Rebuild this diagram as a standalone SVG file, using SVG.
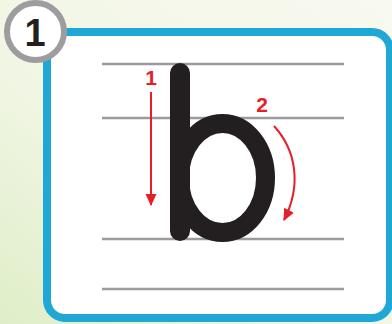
<svg xmlns="http://www.w3.org/2000/svg" width="392" height="324" viewBox="0 0 392 324">
<defs>
<linearGradient id="bg" x1="1" y1="0" x2="0" y2="1">
<stop offset="0" stop-color="#f8f9f0"/>
<stop offset="0.6" stop-color="#f1f6e4"/>
<stop offset="1" stop-color="#dfeec8"/>
</linearGradient>
<marker id="ah" viewBox="0 0 12 12" refX="11" refY="6" markerWidth="12" markerHeight="12" markerUnits="userSpaceOnUse" orient="auto">
<path d="M0,0.5 L12,6 L0,11.5 Z" fill="#e61e2a"/>
</marker>
<style>
.guide{stroke:#9b9a9f;stroke-width:2.5;fill:none}
.ink{stroke:#231f20;fill:none}
.red{stroke:#e61e2a;stroke-width:2;fill:none}
.rt{font-family:"Liberation Sans",Arial,sans-serif;font-weight:bold;font-size:21px;fill:#e61e2a;text-anchor:middle}
</style>
</defs>
<rect x="0" y="0" width="392" height="324" fill="url(#bg)"/>
<g id="frame">
<rect x="47" y="32" width="343" height="286" rx="18" ry="18" fill="#ffffff" stroke="#1fa8d5" stroke-width="8"/>
</g>
<g id="badge">
<circle cx="35.5" cy="31.5" r="28.5" fill="#ffffff" stroke="#9d9d9f" stroke-width="6"/>
<text x="35" y="46" font-family="Liberation Sans,Arial,sans-serif" font-weight="bold" font-size="38" fill="#231f20" text-anchor="middle">1</text>
</g>
<g id="guides">
<line class="guide" x1="102" y1="64" x2="344" y2="64"/>
<line class="guide" x1="102" y1="118" x2="344" y2="118"/>
<line class="guide" x1="102" y1="239" x2="344" y2="239"/>
<line class="guide" x1="102" y1="289" x2="344" y2="289"/>
</g>
<g id="letter-b">
<ellipse class="ink" cx="222.5" cy="178" rx="43" ry="54.5" stroke-width="19"/>
<line class="ink" x1="180" y1="73" x2="180" y2="231" stroke-width="20" stroke-linecap="round"/>
</g>
<g id="connectors">
<line class="red" x1="151" y1="92" x2="151" y2="205" marker-end="url(#ah)"/>
<path class="red" d="M274,126 C296,150 302,185 284,220" marker-end="url(#ah)"/>
</g>
<g id="labels">
<text class="rt" x="151" y="85">1</text>
<text class="rt" x="262" y="112">2</text>
</g>
</svg>
